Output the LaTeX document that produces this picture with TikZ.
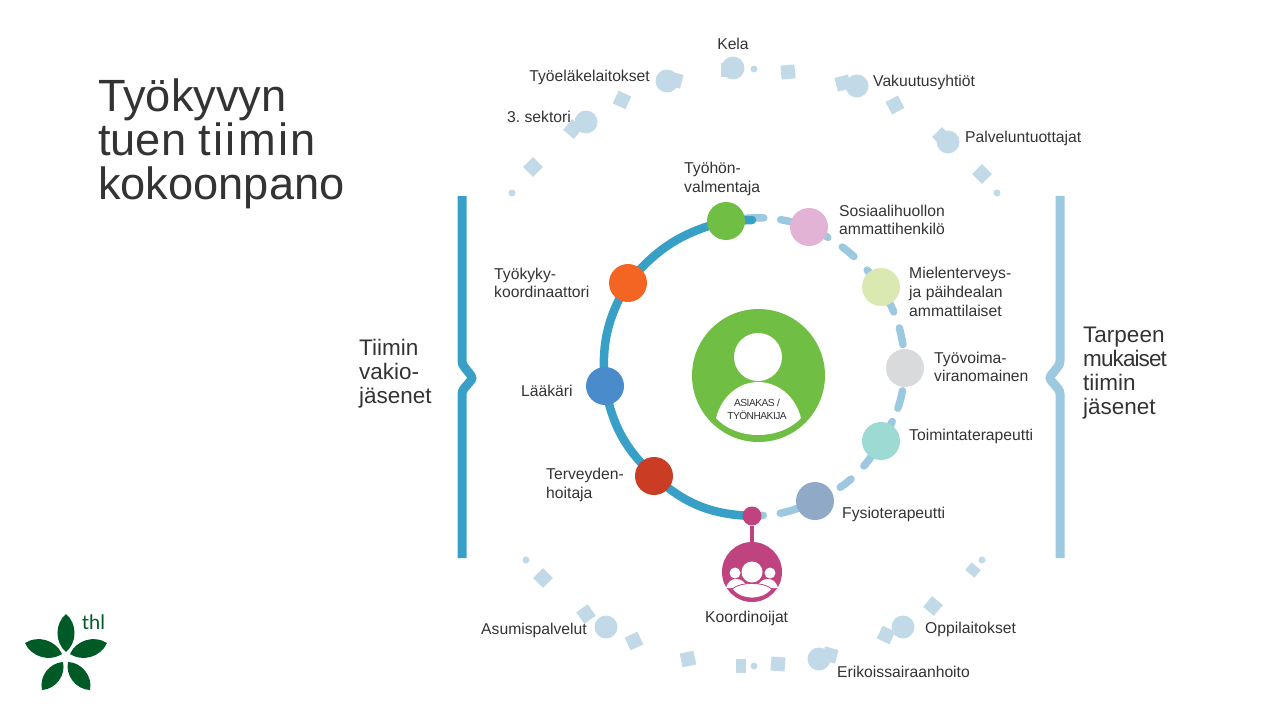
\documentclass[tikz,border=0pt]{standalone}
\usepackage{fontspec}
\setmainfont{Liberation Sans}
\newfontfamily\logofont{Lato}
\usetikzlibrary{backgrounds}
\definecolor{txt}{HTML}{333333}
\definecolor{ringblue}{HTML}{38A0C6}
\definecolor{dashblue}{HTML}{9CC8E0}
\definecolor{paleblue}{HTML}{C2D9E7}
\definecolor{asiakas}{HTML}{71BE44}
\definecolor{koord}{HTML}{BE437F}
\definecolor{thlgreen}{HTML}{005A25}
\tikzset{
  ringnode/.style={circle,inner sep=0pt,minimum size=38pt},
  outerball/.style={circle,fill=paleblue,inner sep=0pt,minimum size=23pt},
  outerdot/.style={circle,fill=paleblue,inner sep=0pt,minimum size=7pt},
  outersq/.style={rectangle,fill=paleblue,inner sep=0pt,minimum size=14pt},
  lbl/.style={text=txt,inner sep=0pt,align=left,font=\fontsize{15.7}{18.7}\selectfont},
  grouplbl/.style={text=txt,inner sep=0pt,align=left,font=\fontsize{22.5}{24}\selectfont},
  bluering/.style={line width=8.5pt,ringblue,line cap=round},
  dashring/.style={line width=7.5pt,dashblue,line cap=round},
  leaf/.style={fill=thlgreen,draw=none}
}
\begin{document}
\begin{tikzpicture}[x=1pt,y=-1pt]
\useasboundingbox (0,0) rectangle (1280,720);
\node[text=txt,inner sep=0pt,align=left,anchor=north west,font=\fontsize{45.2}{44}\selectfont] (otsikko) at (98,79) {Työkyvyn\\tuen {\addfontfeature{LetterSpace=5}tiimin}\\kokoonpano};
\node[ringnode,fill=asiakas,minimum size=133pt] (asiakas) at (758.5,375.5) {};
\node[circle,fill=white,inner sep=0pt,minimum size=48pt] (paa) at (758,357) {};
\fill[white] (716,418) .. controls (722,395) and (740,382) .. (758,382) .. controls (777,382) and (795,395) .. (801,418) .. controls (790,430) and (773,435) .. (758,435) .. controls (743,435) and (727,430) .. (716,418) -- cycle;
\node[text=txt,inner sep=0pt,align=center,font=\fontsize{10.2}{13}\selectfont\addfontfeature{LetterSpace=-5}] (asiakasteksti) at (757,409) {ASIAKAS /\\TYÖNHAKIJA};
\node[ringnode,fill=asiakas] (tyohon) at (726,221) {};
\node[ringnode,fill={rgb,255:red,244;green,101;blue,35}] (tyokyky) at (628,283) {};
\node[ringnode,fill={rgb,255:red,74;green,140;blue,203}] (laakari) at (605,386) {};
\node[ringnode,fill={rgb,255:red,203;green,60;blue,36}] (terveyden) at (654,476) {};
\node[ringnode,fill={rgb,255:red,227;green,179;blue,213}] (sosiaali) at (809,227) {};
\node[ringnode,fill={rgb,255:red,218;green,232;blue,178}] (mielen) at (881,287) {};
\node[ringnode,fill={rgb,255:red,217;green,218;blue,220}] (tyovoima) at (905,368) {};
\node[ringnode,fill={rgb,255:red,156;green,218;blue,211}] (toiminta) at (881,441) {};
\node[ringnode,fill={rgb,255:red,143;green,169;blue,198}] (fysio) at (815,501) {};
\node[circle,fill=koord,inner sep=0pt,minimum size=19pt] (koordpiste) at (752,516) {};
\node[circle,fill=koord,inner sep=0pt,minimum size=60pt] (koordinoijat) at (752,572) {};
\coordinate (sinipaa) at (752,220);
\begin{pgfonlayer}{background}
\draw[dashring,dash pattern=on 38pt off 17pt on 100pt] (tyohon.center) to[bend left=14] (sosiaali.center);
\draw[bluering] (sinipaa) -- (tyohon.center) to[bend right=18] (tyokyky.center) to[bend right=18] (laakari.center) to[bend right=18] (terveyden.center) to[bend right=20] (koordpiste.center);
\draw[dashring,dash pattern=on 21.5pt off 17.4pt on 15pt off 19pt on 100pt] (sosiaali.center) to[bend left=13] (mielen.center);
\draw[dashring,dash pattern=on 28pt off 17pt on 17pt off 100pt] (mielen.center) to[bend left=14] (tyovoima.center);
\draw[dashring,dash pattern=on 0pt off 23pt on 18pt off 14.5pt on 100pt] (tyovoima.center) to[bend left=15] (toiminta.center);
\draw[dashring,dash pattern=on 30.3pt off 18.4pt on 13.6pt off 100pt] (toiminta.center) to[bend left=18] (fysio.center);
\draw[dashring,dash pattern=on 37pt off 17pt on 100pt] (fysio.center) to[bend left=12] (koordpiste.center);
\end{pgfonlayer}
\draw[koord,line width=4.5pt] (koordpiste) -- (koordinoijat);
\node[circle,fill=white,inner sep=0pt,minimum size=21pt] (ihminen) at (752,572) {};
\node[circle,fill=white,inner sep=0pt,minimum size=11pt] (ihminenv) at (735,573) {};
\node[circle,fill=white,inner sep=0pt,minimum size=11pt] (ihmineno) at (770,573) {};
\fill[white] (726,588) .. controls (728,581) and (732,579) .. (736,579) .. controls (741,579) and (746,582) .. (747,588) -- cycle;
\fill[white] (757,588) .. controls (758,582) and (763,579) .. (768,579) .. controls (772,579) and (776,581) .. (778,588) -- cycle;
\filldraw[fill=white,draw=koord,line width=0.8pt] (732,589) .. controls (737,585) and (744,583.5) .. (752,583.5) .. controls (760,583.5) and (767,585) .. (772,589) .. controls (766,596) and (759,598) .. (752,598) .. controls (745,598) and (738,596) .. (732,589) -- cycle;
\node[outerdot] (ulko1) at (512,193) {};
\node[outersq,rotate=45] (ulko2) at (533,167) {};
\node[outersq,rotate=-40] (ulko3) at (573,129) {};
\node[outerball] (sektori) at (586,122) {};
\node[outersq,rotate=-25] (ulko4) at (622,100) {};
\node[outersq,rotate=-15] (ulko5) at (675,80) {};
\node[outerball] (elake) at (667,81) {};
\node[outersq] (ulko6) at (728,70) {};
\node[outerball] (kela) at (733,68) {};
\node[outerdot] (ulko7) at (754,69) {};
\node[outersq,rotate=5] (ulko8) at (788,72) {};
\node[outersq,rotate=15] (ulko9) at (843,83) {};
\node[outerball] (vakuutus) at (857,86) {};
\node[outersq,rotate=28] (ulko10) at (895,105) {};
\node[outersq,rotate=45] (ulko11) at (942,137) {};
\node[outerball] (palvelu) at (948,142) {};
\node[outersq,rotate=45] (ulko12) at (982,174) {};
\node[outerdot] (ulko13) at (997,193) {};
\node[outerdot] (ulko14) at (526,560) {};
\node[outersq,rotate=45] (ulko15) at (543,578) {};
\node[outersq,rotate=35] (ulko16) at (586,614) {};
\node[outerball] (asumis) at (606,627) {};
\node[outersq,rotate=25] (ulko17) at (634,641) {};
\node[outersq,rotate=12] (ulko18) at (688,659) {};
\node[rectangle,fill=paleblue,inner sep=0pt,minimum width=10pt,minimum height=14pt] (ulko19) at (741,666) {};
\node[outerdot] (ulko20) at (754,666) {};
\node[outersq,rotate=-4] (ulko21) at (778,664) {};
\node[outersq,rotate=-15] (ulko22) at (830,655) {};
\node[outerball] (erikois) at (819,659) {};
\node[outersq,rotate=-25] (ulko23) at (886,635) {};
\node[outerball] (oppi) at (903,627) {};
\node[outersq,rotate=-40] (ulko24) at (933,606) {};
\node[rectangle,fill=paleblue,inner sep=0pt,minimum width=12pt,minimum height=10pt,rotate=-40] (ulko25) at (973,570) {};
\node[outerdot] (ulko26) at (982,560) {};
\node[lbl,anchor=center] (kelateksti) at (733,44) {Kela};
\node[lbl,anchor=east] (elaketeksti) at (650,77) {Työeläkelaitokset};
\node[lbl,anchor=west] (sektoriteksti) at (507,117) {3.\ sektori};
\node[lbl,anchor=west] (vakuutusteksti) at (873,82) {Vakuutusyhtiöt};
\node[lbl,anchor=west] (palveluteksti) at (965,138) {Palveluntuottajat};
\node[lbl,anchor=west] (tyohonteksti) at (684,179) {Työhön-\\valmentaja};
\node[lbl,anchor=west] (tyokykyteksti) at (494,283) {Työkyky-\\koordinaattori};
\node[lbl,anchor=west] (laakariteksti) at (521,391) {Lääkäri};
\node[lbl,anchor=west] (terveydenteksti) at (546,485) {Terveyden-\\hoitaja};
\node[lbl,anchor=west] (sosiaaliteksti) at (839,220) {Sosiaalihuollon\\ammattihenkilö};
\node[lbl,anchor=west] (mielenteksti) at (909,292) {Mielenterveys-\\ja päihdealan\\ammattilaiset};
\node[lbl,anchor=west] (tyovoimateksti) at (934,367) {Työvoima-\\viranomainen};
\node[lbl,anchor=west] (toimintateksti) at (909,436) {Toimintaterapeutti};
\node[lbl,anchor=west] (fysioteksti) at (842,514) {Fysioterapeutti};
\node[lbl,anchor=west] (koordteksti) at (705,618) {Koordinoijat};
\node[lbl,anchor=west] (asumisteksti) at (481,630) {Asumispalvelut};
\node[lbl,anchor=west] (oppiteksti) at (925,629) {Oppilaitokset};
\node[lbl,anchor=west] (erikoisteksti) at (837,672) {Erikoissairaanhoito};
\draw[ringblue,line width=9pt,line cap=butt,rounded corners=3pt] (462,196) -- (462,364) -- (473,378) -- (462,391) -- (462,558);
\draw[dashblue,line width=9pt,line cap=butt,rounded corners=3pt] (1060,196) -- (1060,364) -- (1049,378) -- (1060,391) -- (1060,558);
\node[grouplbl,anchor=west] (vakiot) at (359,374) {Tiimin\\vakio-\\jäsenet};
\node[grouplbl,anchor=west] (tarpeen) at (1083,373) {Tarpeen\\{\addfontfeature{LetterSpace=-4}mukaiset}\\tiimin\\jäsenet};
\path[leaf] (66,652) to[bend left=50] (66,614) to[bend left=50] (66,652);
\path[leaf] (62,654) to[bend left=50] (25,643) to[bend left=50] (62,654);
\path[leaf] (70,654) to[bend left=50] (107,643) to[bend left=50] (70,654);
\path[leaf] (63,662) to[bend left=50] (42,690) to[bend left=50] (63,662);
\path[leaf] (68,662) to[bend left=50] (90,690) to[bend left=50] (68,662);
\node[text=thlgreen,inner sep=0pt,font=\logofont\fontsize{20}{20}\selectfont] (thl) at (93.5,622) {thl};
\end{tikzpicture}
\end{document}
